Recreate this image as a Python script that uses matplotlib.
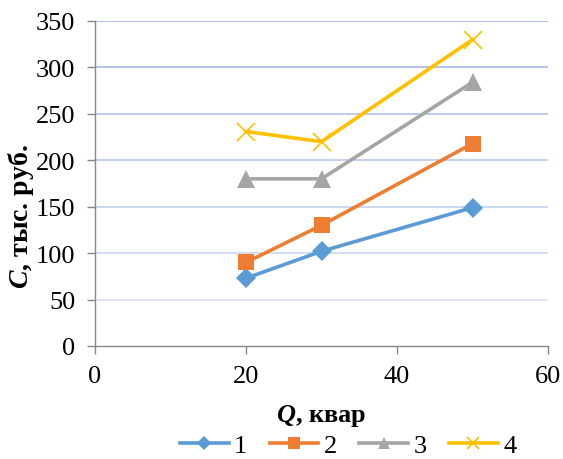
import matplotlib
matplotlib.use("Agg")
import matplotlib.pyplot as plt
import numpy as np

plt.rcParams['font.family'] = ['Liberation Serif', 'DejaVu Serif']
plt.rcParams['mathtext.fontset'] = 'custom'
plt.rcParams['mathtext.bfit'] = 'Liberation Serif:italic:bold'
plt.rcParams['mathtext.it'] = 'Liberation Serif:italic'
plt.rcParams['mathtext.rm'] = 'Liberation Serif'

x = [20, 30, 50]
s1 = [73, 102, 149]
s2 = [90, 130, 218]
s3 = [180, 180, 284]
s4 = [231, 220, 330]
labels = ['1', '2', '3', '4']
colors = ['#5B9BD5', '#ED7D31', '#A5A5A5', '#FFC000']
markers = ['D', 's', '^', 'x']
msizes = [10, 12, 12.5, 13]
yticks = [0, 50, 100, 150, 200, 250, 300, 350]
xticks = [0, 20, 40, 60]

fig = plt.figure(figsize=(5.63, 4.60), dpi=100)
ax = fig.add_axes([95/563, 1-347/460, (548-95)/563, (347-22)/460])

# gradient-coloured horizontal gridlines
c_top = np.array([0x9D, 0xB3, 0xE6]) / 255
c_bot = np.array([0xDE, 0xE6, 0xF5]) / 255
for v in yticks[1:]:
    t = v / yticks[-1]
    col = c_bot + (c_top - c_bot) * t
    ax.axhline(v, color=col, lw=1.2, zorder=0)

for ys, lab, c, m, ms in zip([s1, s2, s3, s4], labels, colors, markers, msizes):
    kw = dict(markeredgewidth=1.2) if m == 'x' else dict(markeredgewidth=0)
    ax.plot(x, ys, color=c, lw=2.6, marker=m, markersize=ms, label=lab,
            markerfacecolor=c, markeredgecolor=c, zorder=3, **kw)

ax.set_xlim(0, 60)
ax.set_ylim(0, 350)
ax.set_xticks(xticks)
ax.set_yticks(yticks)
for sp in ['top', 'right']:
    ax.spines[sp].set_visible(False)
for sp in ['left', 'bottom']:
    ax.spines[sp].set_color('#888888')
    ax.spines[sp].set_linewidth(1.0)
ax.tick_params(axis='both', colors='#888888', labelcolor='black', labelsize=19,
               length=6, width=1.0, direction='out')
ax.tick_params(axis='y', pad=8)
ax.tick_params(axis='x', pad=8)

ax.set_ylabel(r'$\mathbfit{C}$, тыс. руб.', fontsize=20, fontweight='bold')
ax.yaxis.set_label_coords(-0.13, 0.40)
ax.set_xlabel(r'$\mathbfit{Q}$, квар', fontsize=19, fontweight='bold')
ax.xaxis.set_label_coords(0.5, -0.172)

fig.legend(loc='center', bbox_to_anchor=(348/563, 1-446/460), ncol=4,
           frameon=False, fontsize=19, handlelength=1.85, columnspacing=0.85,
           handletextpad=0.2, borderaxespad=0, borderpad=0, markerscale=0.68)

fig.savefig('out.png', dpi=100)
